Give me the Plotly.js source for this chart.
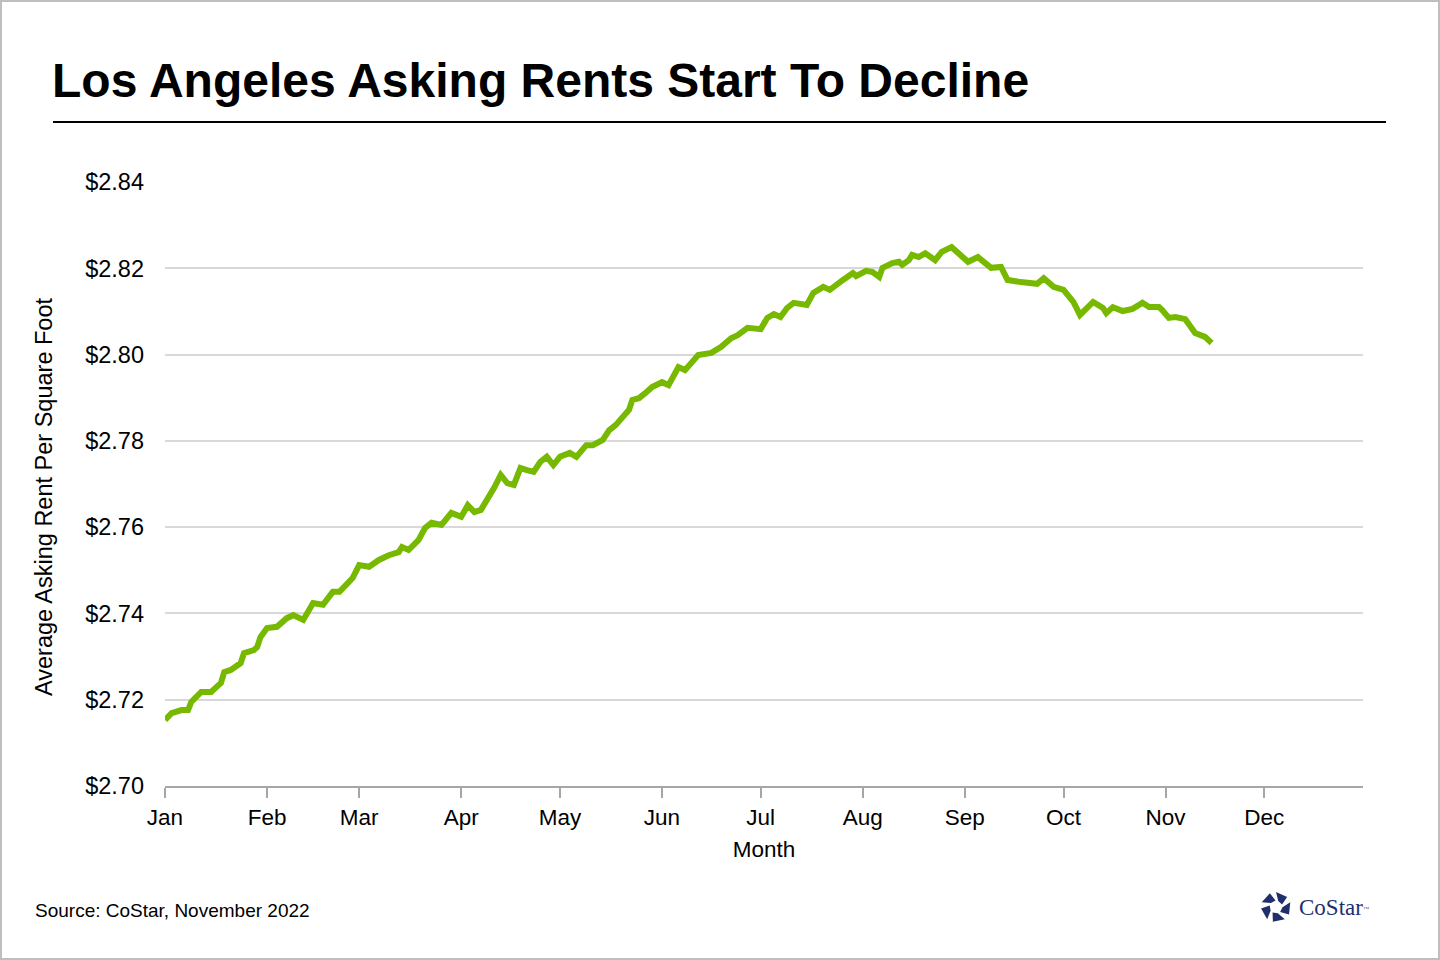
<!DOCTYPE html>
<html>
<head>
<meta charset="utf-8">
<script src="https://cdn.plot.ly/plotly-3.0.1.min.js"></script>
<style>
  html, body { margin: 0; padding: 0; background: #fff; }
  #chart { width: 1440px; height: 960px; }
</style>
</head>
<body>
<div id="chart"></div>
<script>
// values
const dates = [
    '2022-01-01', '2022-01-03', '2022-01-06', '2022-01-08', '2022-01-09', '2022-01-12', '2022-01-15',
    '2022-01-18', '2022-01-19', '2022-01-21', '2022-01-24', '2022-01-25', '2022-01-28', '2022-01-29',
    '2022-01-30', '2022-02-01', '2022-02-04', '2022-02-07', '2022-02-09', '2022-02-12', '2022-02-15',
    '2022-02-18', '2022-02-21', '2022-02-23', '2022-02-27', '2022-03-01', '2022-03-04', '2022-03-07',
    '2022-03-10', '2022-03-13', '2022-03-14', '2022-03-16', '2022-03-19', '2022-03-21', '2022-03-23',
    '2022-03-26', '2022-03-29', '2022-04-01', '2022-04-03', '2022-04-05', '2022-04-07', '2022-04-09',
    '2022-04-11', '2022-04-13', '2022-04-15', '2022-04-17', '2022-04-19', '2022-04-21', '2022-04-23',
    '2022-04-25', '2022-04-27', '2022-04-29', '2022-05-01', '2022-05-04', '2022-05-06', '2022-05-09',
    '2022-05-11', '2022-05-14', '2022-05-16', '2022-05-18', '2022-05-20', '2022-05-22', '2022-05-23',
    '2022-05-25', '2022-05-27', '2022-05-29', '2022-06-01', '2022-06-03', '2022-06-06', '2022-06-08',
    '2022-06-12', '2022-06-16', '2022-06-19', '2022-06-22', '2022-06-24', '2022-06-27', '2022-07-01',
    '2022-07-03', '2022-07-05', '2022-07-07', '2022-07-09', '2022-07-11', '2022-07-15', '2022-07-17',
    '2022-07-20', '2022-07-22', '2022-07-26', '2022-07-29', '2022-07-30', '2022-08-02', '2022-08-04',
    '2022-08-06', '2022-08-07', '2022-08-10', '2022-08-12', '2022-08-13', '2022-08-15', '2022-08-16',
    '2022-08-18', '2022-08-20', '2022-08-23', '2022-08-25', '2022-08-28', '2022-08-31', '2022-09-02',
    '2022-09-05', '2022-09-07', '2022-09-09', '2022-09-12', '2022-09-14', '2022-09-18', '2022-09-21',
    '2022-09-23', '2022-09-25', '2022-09-28', '2022-10-01', '2022-10-04', '2022-10-06', '2022-10-10',
    '2022-10-13', '2022-10-14', '2022-10-16', '2022-10-19', '2022-10-22', '2022-10-25', '2022-10-27',
    '2022-10-30', '2022-10-31', '2022-11-02', '2022-11-04', '2022-11-07', '2022-11-10', '2022-11-12',
    '2022-11-13', '2022-11-15'
];
const rents = [
    2.7153, 2.7169, 2.7176, 2.7176, 2.7195, 2.7218, 2.7218,
    2.7239, 2.7264, 2.7269, 2.7285, 2.7308, 2.7315, 2.7322,
    2.7345, 2.7366, 2.7369, 2.7389, 2.7396, 2.7385, 2.7424,
    2.7420, 2.7450, 2.7450, 2.7482, 2.7512, 2.7508, 2.7524,
    2.7535, 2.7542, 2.7554, 2.7547, 2.7570, 2.7598, 2.7610,
    2.7605, 2.7633, 2.7624, 2.7651, 2.7635, 2.7640, 2.7663,
    2.7691, 2.7721, 2.7702, 2.7698, 2.7737, 2.7732, 2.7728,
    2.7751, 2.7763, 2.7744, 2.7763, 2.7772, 2.7763, 2.7790,
    2.7790, 2.7802, 2.7825, 2.7837, 2.7855, 2.7872, 2.7895,
    2.7899, 2.7911, 2.7925, 2.7936, 2.7929, 2.7971, 2.7964,
    2.7999, 2.8004, 2.8018, 2.8038, 2.8045, 2.8062, 2.8059,
    2.8085, 2.8094, 2.8087, 2.8108, 2.8120, 2.8115, 2.8143,
    2.8157, 2.8150, 2.8173, 2.8189, 2.8182, 2.8194, 2.8191,
    2.8180, 2.8201, 2.8212, 2.8215, 2.8208, 2.8219, 2.8231,
    2.8226, 2.8235, 2.8219, 2.8238, 2.8249, 2.8231, 2.8215,
    2.8226, 2.8215, 2.8201, 2.8203, 2.8173, 2.8168, 2.8166,
    2.8164, 2.8177, 2.8157, 2.8150, 2.8122, 2.8092, 2.8122,
    2.8108, 2.8096, 2.8110, 2.8101, 2.8106, 2.8120, 2.8110,
    2.8110, 2.8103, 2.8085, 2.8087, 2.8082, 2.8050, 2.8043,
    2.8041, 2.8027
];
const monthTicks = ['2022-01-01', '2022-02-01', '2022-03-01', '2022-04-01', '2022-05-01', '2022-06-01',
    '2022-07-01', '2022-08-01', '2022-09-01', '2022-10-01', '2022-11-01', '2022-12-01'];
const monthLabels = ['Jan', 'Feb', 'Mar', 'Apr', 'May', 'Jun', 'Jul', 'Aug', 'Sep', 'Oct', 'Nov', 'Dec'];
const rentTicks = [2.70, 2.72, 2.74, 2.76, 2.78, 2.80, 2.82, 2.84];

// plot area in page pixels, used to place the decorations
const W = 1440, H = 960;
const M = { l: 165, r: 77, t: 182, b: 174 };
const px = x => (x - M.l) / (W - M.l - M.r);
const py = y => (H - M.b - y) / (H - M.t - M.b);

// CoStar mark: five blocks around a centre
function logoBlocks(cx, cy) {
    const out = [];
    for (let i = 0; i < 5; i++) {
        const a0 = (i * 72 - 90) * Math.PI / 180;
        const a1 = a0 + 48 * Math.PI / 180;
        const ro = 15, ri = 6.5;
        const pts = [
            [cx + ri * Math.cos(a0 + 0.35), cy + ri * Math.sin(a0 + 0.35)],
            [cx + ro * Math.cos(a0), cy + ro * Math.sin(a0)],
            [cx + ro * Math.cos(a1), cy + ro * Math.sin(a1)],
            [cx + ri * Math.cos(a1 + 0.35), cy + ri * Math.sin(a1 + 0.35)],
        ];
        const d = 'M' + pts.map(p => px(p[0]).toFixed(5) + ',' + py(p[1]).toFixed(5)).join(' L') + ' Z';
        out.push({
            type: 'path', xref: 'paper', yref: 'paper', path: d,
            fillcolor: '#1f2f6b', line: { width: 0 },
        });
    }
    return out;
}

const data = [{
    x: dates,
    y: rents,
    type: 'scatter',
    mode: 'lines',
    line: { color: '#76b900', width: 6, shape: 'linear' },
    hoverinfo: 'x+y',
}];

const layout = {
    width: W,
    height: H,
    margin: M,
    paper_bgcolor: '#ffffff',
    plot_bgcolor: '#ffffff',
    showlegend: false,
    font: { family: 'Arial, "Liberation Sans", sans-serif', color: '#000000', size: 22 },
    title: {
        text: '<b>Los Angeles Asking Rents Start To Decline</b>',
        font: { size: 48, color: '#000000' },
        xref: 'container', yref: 'container',
        x: 52 / W, xanchor: 'left',
        y: 1 - 80 / H, yanchor: 'middle',
    },
    xaxis: {
        type: 'date',
        range: ['2022-01-01', '2022-12-31'],
        tickmode: 'array',
        tickvals: monthTicks,
        ticktext: monthLabels,
        ticks: 'outside',
        ticklen: 10,
        tickwidth: 2,
        tickcolor: '#a6a6a6',
        showline: true,
        linecolor: '#a6a6a6',
        linewidth: 2,
        showgrid: false,
        zeroline: false,
        tickfont: { size: 22.5 },
        title: { text: 'Month', font: { size: 22.5 }, standoff: 12 },
    },
    yaxis: {
        range: [2.70, 2.84],
        tickmode: 'array',
        tickvals: rentTicks,
        tickformat: '$.2f',
        showgrid: true,
        gridcolor: '#d9d9d9',
        gridwidth: 2,
        showline: false,
        zeroline: false,
        ticks: '',
        ticklabelstandoff: 20,
        tickfont: { size: 23.5 },
    },
    annotations: [{
        text: 'Average Asking Rent Per Square Foot',
        xref: 'paper', yref: 'paper',
        x: px(44), y: py(497),
        xanchor: 'center', yanchor: 'middle',
        textangle: -90,
        showarrow: false,
        font: { size: 23.5 },
    }, {
        text: 'Source: CoStar, November 2022',
        xref: 'paper', yref: 'paper',
        x: px(33), y: py(910),
        xanchor: 'left', yanchor: 'middle',
        showarrow: false,
        font: { size: 19 },
    }, {
        text: 'CoStar<span style="font-size:9px"><sup>™</sup></span>',
        xref: 'paper', yref: 'paper',
        x: px(1297), y: py(907),
        xanchor: 'left', yanchor: 'middle',
        showarrow: false,
        font: { size: 23, family: 'Liberation Serif, "DejaVu Serif", serif', color: '#1f2f6b' },
    }],
    shapes: [{
        type: 'line', xref: 'paper', yref: 'paper',
        x0: px(53), x1: px(1386), y0: py(122), y1: py(122),
        line: { color: '#000000', width: 2 },
    }, {
        type: 'rect', xref: 'paper', yref: 'paper',
        x0: px(1), x1: px(1439), y0: py(1), y1: py(959),
        line: { color: '#bfbfbf', width: 2 },
    }].concat(logoBlocks(1276, 907)),
};

Plotly.newPlot('chart', data, layout, { displayModeBar: false, staticPlot: true });
</script>
</body>
</html>
